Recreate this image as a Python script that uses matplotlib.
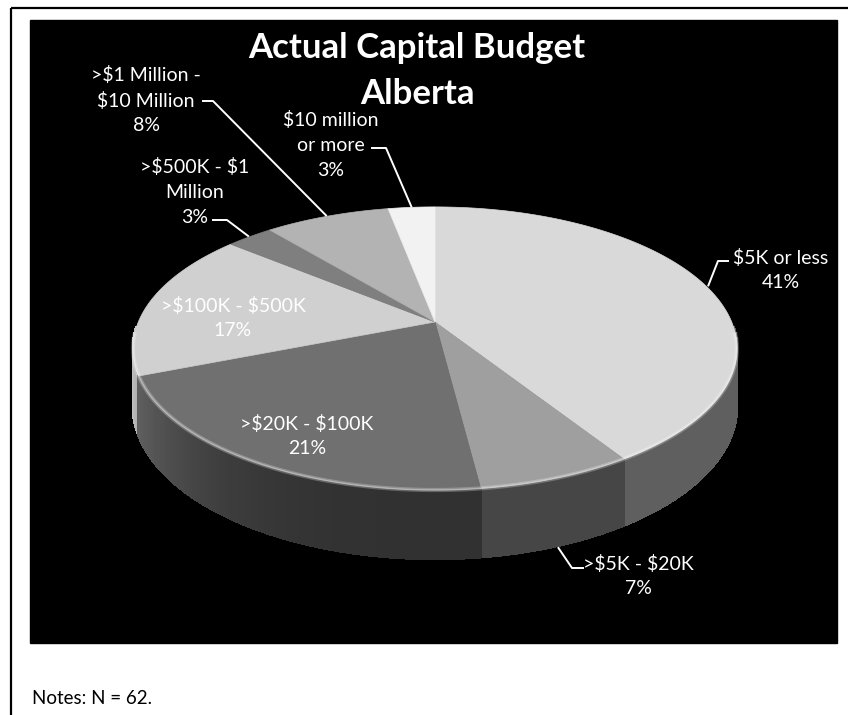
import numpy as np
import matplotlib.pyplot as plt
from matplotlib.patches import Polygon, Rectangle
from matplotlib.collections import PolyCollection

plt.rcParams['text.parse_math'] = False
plt.rcParams['font.family'] = ['Lato', 'DejaVu Sans']

# Budget categories, clockwise from 12 o'clock
categories = ['$5K or less', '>$5K - $20K', '>$20K - $100K', '>$100K - $500K',
              '>$500K - $1 Million', '>$1 Million - $10 Million', '$10 million or more']
label_lines = ['$5K or less', '>$5K - $20K', '>$20K - $100K', '>$100K - $500K',
               '>$500K - $1\nMillion', '>$1 Million -\n$10 Million', '$10 million\nor more']
shares = [41, 7, 21, 17, 3, 8, 3]
top_colors = ['#d9d9d9', '#9f9f9f', '#707070', '#d0d0d0', '#7f7f7f', '#b3b3b3', '#f2f2f2']

# label centre, leader start, leader elbow (pixels); None = label sits on the slice
label_pos = [(781, 270), (638, 576), (307, 436), (233, 318), (195, 192), (146, 100), (331, 145)]
leader_pts = [((728, 261), (718, 261)), ((583, 568), (572, 568)), None, None,
              ((213, 220), (227, 220)), ((203, 101), (213, 101)), ((372, 148), (386, 148))]

# perspective pie geometry in pixels
cx, cy = 435, 322
RX, RY, G, DEPTH = 296.7, 136.6, 0.187, 56


def project(phi_deg, r=1.0):
    phi = np.radians(phi_deg)
    x = r * np.sin(phi)
    y = -r * np.cos(phi)
    w = 1 - G * y
    return cx + RX * x / w, cy + RY * y / w, w


fig = plt.figure(figsize=(8.48, 7.15), dpi=100)
ax = fig.add_axes([0, 0, 1, 1])
ax.set_xlim(0, 848)
ax.set_ylim(715, 0)
ax.axis('off')

# frame and black chart area
ax.plot([11, 11], [8, 715], color='black', lw=1.6, solid_capstyle='butt')
ax.plot([11, 848], [8, 8], color='black', lw=1.6, solid_capstyle='butt')
ax.add_patch(Rectangle((30, 20), 807, 623, color='black', zorder=1))

fracs = np.array(shares) / sum(shares)
bounds = np.concatenate([[0], np.cumsum(fracs)]) * 360

# side walls, drawn back to front
quads, qcolors, depth = [], [], []
for i in range(len(shares)):
    a0, a1 = bounds[i], bounds[i + 1]
    lo, hi = max(a0, 92), min(a1, 268)
    if hi <= lo:
        continue
    steps = np.linspace(lo, hi, max(3, int(hi - lo)))
    base = np.array(plt.matplotlib.colors.to_rgb(top_colors[i]))
    for p, q in zip(steps[:-1], steps[1:]):
        x0, y0, w0 = project(p)
        x1, y1, w1 = project(q)
        quads.append([(x0, y0), (x1, y1), (x1, y1 + DEPTH / w1), (x0, y0 + DEPTH / w0)])
        xs = np.sin(np.radians((p + q) / 2))
        shade = 0.44 + 0.52 * max(0.0, -xs) ** 3
        qcolors.append(np.clip(base * shade, 0, 1))
        depth.append(-np.cos(np.radians((p + q) / 2)))
order = np.argsort(depth)
ax.add_collection(PolyCollection([quads[k] for k in order],
                                 facecolors=[qcolors[k] for k in order],
                                 edgecolors='face', linewidths=1.2,
                                 antialiased=False, zorder=2))

# top faces
for i in range(len(shares)):
    a0, a1 = bounds[i], bounds[i + 1]
    ang = np.linspace(a0, a1, max(4, int((a1 - a0) * 2)))
    pts = [(cx, cy)] + [project(a)[:2] for a in ang]
    ax.add_patch(Polygon(pts, closed=True, facecolor=top_colors[i],
                         edgecolor=top_colors[i], lw=0.5, zorder=3))

# soft bevel highlight along the front rim
rim = np.linspace(95, 265, 200)
rx, ry = zip(*[project(a)[:2] for a in rim])
ax.plot(rx, ry, color='white', lw=3, alpha=0.25, zorder=4)
ax.plot(rx, ry, color='white', lw=1, alpha=0.35, zorder=4)

# labels and leader lines
for i in range(len(shares)):
    lx, ly = label_pos[i]
    ax.text(lx, ly, f'{label_lines[i]}\n{shares[i]}%', color='white', fontsize=14,
            ha='center', va='center', linespacing=1.55, zorder=6)
    if leader_pts[i] is None:
        continue
    mid = (bounds[i] + bounds[i + 1]) / 2
    ex, ey, ew = project(mid, 1.01)
    if 95 < mid < 265:
        ey += DEPTH / ew
    (sx, sy), (kx, ky) = leader_pts[i]
    ax.plot([sx, kx, ex], [sy, ky, ey], color='white', lw=1.4, zorder=5)

ax.text(417, 71, 'Actual Capital Budget\nAlberta', color='white', fontsize=25,
        fontweight='bold', ha='center', va='center', linespacing=1.55, zorder=6)

ax.text(32, 698, 'Notes: N = 62.', color='black', fontsize=13.5, ha='left', va='center')

fig.savefig('out.png', dpi=100, facecolor='white')
